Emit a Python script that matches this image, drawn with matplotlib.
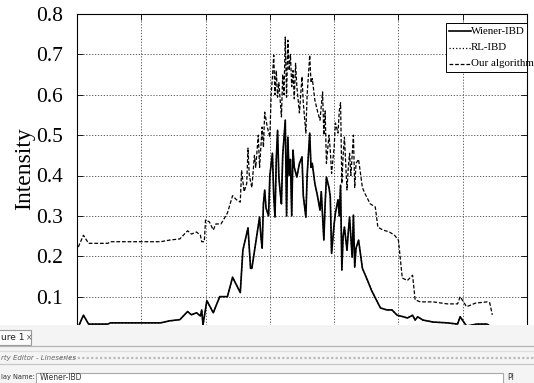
import matplotlib
matplotlib.use("Agg")
import matplotlib.pyplot as plt
from matplotlib.patches import Rectangle
from matplotlib.lines import Line2D

# ------------------------------------------------------------
# Data (x in samples, y in intensity)
# ------------------------------------------------------------
ours_x = [1, 5, 9, 24, 26, 65, 72, 80, 86, 89, 93, 96, 97, 99, 100, 103, 106,
          108, 112, 117, 121, 124, 127,
          128, 130, 132, 133, 134, 136, 138, 139, 141, 142, 144, 145, 146, 148,
          150, 151, 152, 153, 154, 155, 156, 157, 159, 160, 161, 162, 163, 164,
          165, 166, 167, 168, 169, 170, 171, 173, 174, 175, 176, 178, 179, 181,
          182, 183, 185, 187, 189, 191, 192, 193, 194, 196, 197, 198, 200, 201,
          203, 204, 205, 206, 207, 208, 210, 211, 212, 213, 215, 216, 217, 219,
          222, 224, 228, 232, 234, 238, 243, 247, 250, 253, 257, 261,
          263, 267, 277, 288, 296, 298, 303, 310, 319, 321, 323]
ours_y = [0.223, 0.252, 0.232, 0.232, 0.236, 0.236, 0.240, 0.243, 0.263, 0.255,
          0.260, 0.252, 0.236, 0.236, 0.290, 0.285, 0.265,
          0.280, 0.280, 0.307, 0.350, 0.340, 0.334,
          0.413, 0.360, 0.380, 0.468, 0.400, 0.370, 0.450, 0.420, 0.500, 0.420,
          0.520, 0.470, 0.557, 0.520, 0.495, 0.600, 0.643, 0.698, 0.600, 0.660,
          0.594, 0.630, 0.545, 0.650, 0.600, 0.743, 0.594, 0.735, 0.660, 0.700,
          0.620, 0.660, 0.590, 0.678, 0.620, 0.555, 0.600, 0.645, 0.580, 0.505,
          0.600, 0.698, 0.630, 0.640, 0.587, 0.560, 0.537, 0.607, 0.500, 0.560,
          0.430, 0.500, 0.463, 0.405, 0.470, 0.530, 0.505, 0.560, 0.580, 0.380,
          0.450, 0.495, 0.364, 0.420, 0.455, 0.400, 0.500, 0.370, 0.430, 0.440,
          0.370, 0.355, 0.330, 0.322, 0.272, 0.265, 0.260, 0.252, 0.240, 0.146,
          0.140, 0.153, 0.092, 0.087, 0.087, 0.082, 0.082, 0.100, 0.075, 0.084,
          0.087, 0.085, 0.055]

wiener_x = [1, 5, 9, 24, 26, 65, 72, 80, 86, 89, 93, 96, 97, 98, 101, 106, 111,
            117, 121, 127, 129, 133, 135, 136,
            142, 143, 144, 145, 146, 147, 149, 150, 152, 153, 154, 155, 156, 157,
            158, 159, 160, 162, 163, 164, 165, 166, 167, 168, 169, 171, 173, 175,
            176, 178, 179, 181, 182, 183, 185, 187, 189, 190, 192, 193, 194, 196,
            197, 198, 200, 201, 203, 204, 205, 206, 207, 208, 210, 211, 212, 214,
            215, 216, 217, 219,
            222, 226, 229, 232, 236, 241, 245, 249, 254, 257, 261, 263, 265, 269,
            277, 288, 296, 298, 303, 311, 319, 322]
wiener_y = [0.025, 0.054, 0.032, 0.032, 0.035, 0.035, 0.040, 0.043, 0.063, 0.055,
            0.060, 0.052, 0.067, 0.030, 0.090, 0.060, 0.100,
            0.100, 0.148, 0.110, 0.215, 0.270, 0.170, 0.170,
            0.297, 0.250, 0.220, 0.330, 0.364, 0.320, 0.300, 0.400, 0.455, 0.350,
            0.297, 0.440, 0.512, 0.396, 0.360, 0.330, 0.450, 0.537, 0.300, 0.495,
            0.400, 0.440, 0.300, 0.463, 0.420, 0.396, 0.430, 0.446, 0.350, 0.297,
            0.400, 0.505, 0.420, 0.430, 0.380, 0.350, 0.314, 0.360, 0.240, 0.330,
            0.396, 0.370, 0.347, 0.207, 0.280, 0.307, 0.340, 0.300, 0.376, 0.166,
            0.250, 0.272, 0.215, 0.260, 0.297, 0.198, 0.302, 0.173, 0.220, 0.240,
            0.170, 0.140, 0.116, 0.097, 0.072, 0.067, 0.067, 0.054, 0.050, 0.047,
            0.054, 0.042, 0.050, 0.042, 0.037, 0.035, 0.032, 0.050, 0.027, 0.032,
            0.032, 0.025]

# RL-IBD sits under the Wiener-IBD curve in the picture
rl_x = list(wiener_x)
rl_y = list(wiener_y)

labels = ["Wiener-IBD", "RL-IBD", "Our algorithm"]
yticks = [0.1, 0.2, 0.3, 0.4, 0.5, 0.6, 0.7, 0.8]
xticks = [0, 50, 100, 150, 200, 250, 300, 350]

assert len(ours_x) == len(ours_y)
assert len(wiener_x) == len(wiener_y)

W, H = 534, 383


def fx(p):
    return p / W


def fy(p):
    return 1 - p / H


plt.rcParams["font.family"] = ["Liberation Serif", "DejaVu Serif"]

fig = plt.figure(figsize=(W / 100, H / 100), dpi=100)
ax = fig.add_axes([fx(77), fy(337), fx(527) - fx(77), fy(14) - fy(337)])

grid_kw = dict(color="#444444", linestyle=(0, (1.5, 2)), linewidth=0.6)
ax.plot(rl_x, rl_y, color="black", linestyle=":", linewidth=0.9)
ax.plot(wiener_x, wiener_y, color="black", linestyle="-", linewidth=1.2)
ax.plot(ours_x, ours_y, color="black", linestyle=(0, (3, 1.5)), linewidth=0.9)

ax.set_xlim(0, 350)
ax.set_ylim(0, 0.8)
ax.set_xticks(xticks)
ax.set_yticks(yticks)
ax.set_xticklabels([])
ax.set_yticklabels([f"{v:.1f}" for v in yticks], fontsize=15.5)
ax.grid(True, **grid_kw)
ax.tick_params(direction="in", length=4, width=0.6, top=True, right=True, pad=10)
for s in ax.spines.values():
    s.set_linewidth(0.8)
ax.set_ylabel("Intensity", fontsize=17)
ax.yaxis.set_label_coords(-0.092, 0.52)

# legend drawn MATLAB-like: text runs past the box
lg_left, lg_top, lg_right, lg_bot = 446, 23, 527, 72
fig.add_artist(Rectangle((fx(lg_left), fy(lg_bot)), fx(lg_right) - fx(lg_left),
                         fy(lg_top) - fy(lg_bot), transform=fig.transFigure,
                         facecolor="white", edgecolor="black", linewidth=0.7, zorder=5))
styles = ["-", ":", (0, (3, 1.5))]
widths = [1.2, 0.9, 0.9]
for i, (lab, st, lw) in enumerate(zip(labels, styles, widths)):
    yy = fy(31 + i * 16.5)
    fig.add_artist(Line2D([fx(449), fx(471)], [yy, yy], transform=fig.transFigure,
                          color="black", linestyle=st, linewidth=lw, zorder=6))
    fig.text(fx(471), yy, lab, fontsize=7.8, va="center", ha="left", zorder=6)

# property editor panel covering the bottom of the figure
ui = ["DejaVu Sans"]
fig.add_artist(Rectangle((0, 0), 1, fy(325), transform=fig.transFigure,
                         facecolor="#f4f4f4", edgecolor="none", zorder=10))
fig.add_artist(Rectangle((fx(-2), fy(345)), fx(33), fy(330) - fy(345),
                         transform=fig.transFigure, facecolor="#fbfbfb",
                         edgecolor="#9a9a9a", linewidth=0.8, zorder=11))
fig.text(fx(1), fy(338), "ure 1", fontsize=6.5, family=ui, va="center", zorder=12,
         color="#222222")
fig.text(fx(26), fy(338), "×", fontsize=5.5, family=ui, va="center", zorder=12,
         color="#555555")
for yy, c in [(346, "#b5b5b5"), (351, "#dddddd"), (364, "#c8c8c8")]:
    fig.add_artist(Line2D([0, 1], [fy(yy), fy(yy)], transform=fig.transFigure,
                          color=c, linewidth=0.9, zorder=11))
fig.text(fx(1), fy(358), "rty Editor - Lineseries", fontsize=5, family=ui,
         style="italic", va="center", color="#666666", zorder=12)
fig.add_artist(Line2D([fx(60), 1], [fy(358), fy(358)], transform=fig.transFigure,
                      color="#bbbbbb", linestyle=(0, (1, 1)), linewidth=1.6, zorder=11))
fig.add_artist(Rectangle((fx(36), fy(386)), fx(503) - fx(36), fy(373) - fy(386),
                         transform=fig.transFigure, facecolor="white",
                         edgecolor="#a8a8a8", linewidth=0.8, zorder=11))
fig.text(fx(1), fy(377.5), "lay Name:", fontsize=4.8, family=ui, va="center",
         color="#333333", zorder=12)
fig.text(fx(40), fy(377.5), "Wiener-IBD", fontsize=5.5, family=ui, va="center",
         color="#333333", zorder=12)
fig.text(fx(507), fy(377.5), "Pl", fontsize=5.5, family=ui, va="center",
         color="#333333", zorder=12)

fig.savefig("out.png", dpi=100)
